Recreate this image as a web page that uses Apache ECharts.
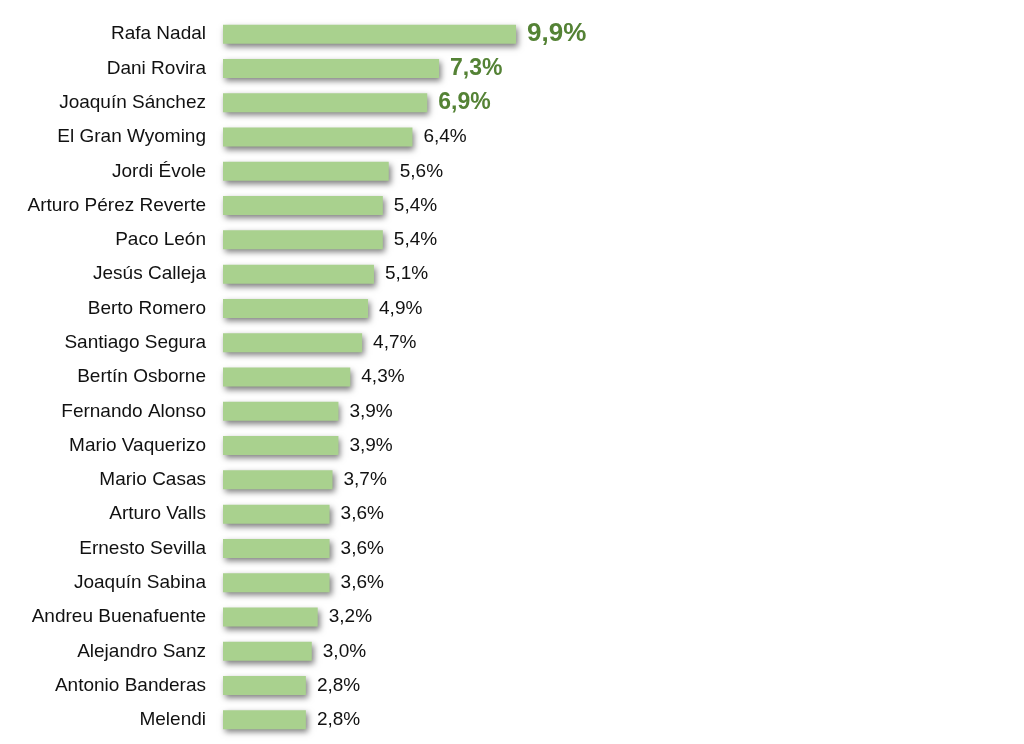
<!DOCTYPE html>
<html>
<head>
<meta charset="utf-8">
<script src="https://cdn.jsdelivr.net/npm/echarts@6/dist/echarts.min.js"></script>
<style>html,body{margin:0;padding:0;background:#fff}#c{width:1024px;height:744px}</style>
</head>
<body>
<div id="c"></div>
<script>
const categories = ["Rafa Nadal","Dani Rovira","Joaquín Sánchez","El Gran Wyoming","Jordi Évole","Arturo Pérez Reverte","Paco León","Jesús Calleja","Berto Romero","Santiago Segura","Bertín Osborne","Fernando Alonso","Mario Vaquerizo","Mario Casas","Arturo Valls","Ernesto Sevilla","Joaquín Sabina","Andreu Buenafuente","Alejandro Sanz","Antonio Banderas","Melendi"];
const values = [9.9,7.3,6.9,6.4,5.6,5.4,5.4,5.1,4.9,4.7,4.3,3.9,3.9,3.7,3.6,3.6,3.6,3.2,3.0,2.8,2.8];
const highlightSizes = [26,23,23];

const fmt = v => v.toFixed(1).replace('.', ',') + '%';
const data = values.map((v, i) => {
  const item = {value: v};
  if (i < highlightSizes.length) {
    item.label = {fontSize: highlightSizes[i], fontWeight: 'bold', color: '#548235'};
  }
  return item;
});

const chart = echarts.init(document.getElementById('c'));
chart.setOption({
  animation: false,
  grid: {left: 223, top: 17, width: 296, height: 720},
  xAxis: {type: 'value', min: 0, max: 10, show: false},
  yAxis: {
    type: 'category', data: categories, inverse: true,
    axisLine: {show: false}, axisTick: {show: false},
    axisLabel: {fontFamily: 'Liberation Sans, Arial, sans-serif', fontSize: 19, color: '#111', margin: 17}
  },
  series: [{
    type: 'bar', data: data, barWidth: 19,
    itemStyle: {color: '#a9d18e', shadowColor: 'rgba(0,0,0,0.5)', shadowBlur: 6, shadowOffsetX: 2, shadowOffsetY: 3},
    label: {show: true, position: 'right', distance: 11, formatter: p => fmt(p.value),
      fontFamily: 'Liberation Sans, Arial, sans-serif', fontSize: 19, color: '#111'}
  }]
});
</script>
</body>
</html>
